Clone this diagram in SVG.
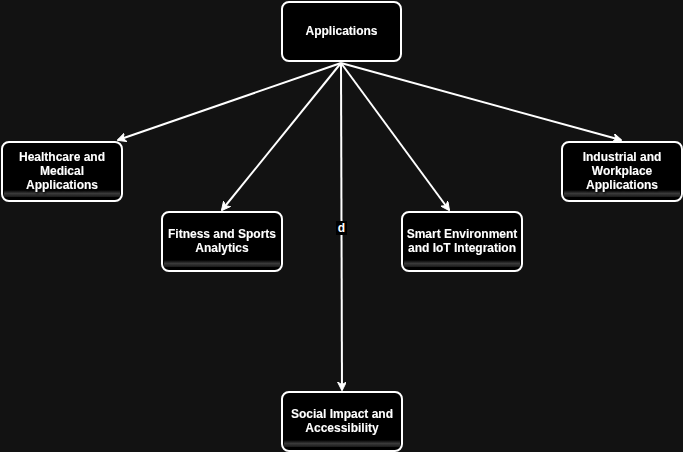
<svg xmlns="http://www.w3.org/2000/svg" width="683" height="452" viewBox="0 0 683 452">
<defs>
<linearGradient id="strip" x1="0" y1="0" x2="0" y2="1">
<stop offset="0" stop-color="#000"/>
<stop offset="0.5" stop-color="#3a3a3a"/>
<stop offset="1" stop-color="#1a1a1a"/>
</linearGradient>
<marker id="arr" viewBox="0 0 10 10" refX="9" refY="5" markerWidth="9" markerHeight="9" markerUnits="userSpaceOnUse" orient="auto">
<path d="M0,0 L10,5 L0,10 L3,5 Z" fill="#fff" stroke="#fff" stroke-width="1"/>
</marker>
<filter id="sh" x="-10%" y="-20%" width="120%" height="150%">
<feDropShadow dx="1" dy="2" stdDeviation="1" flood-color="#000" flood-opacity="0.8"/>
</filter>
</defs>
<style>
.box{fill:#000;stroke:#fff;stroke-width:2}
.t{fill:#fff;font-family:"Liberation Sans",Arial,sans-serif;font-size:12px;font-weight:bold;text-anchor:middle}
.e{stroke:#fff;stroke-width:2;fill:none;marker-end:url(#arr)}
</style>
<rect width="683" height="452" fill="#121212"/>
<g id="connectors">
<line class="e" x1="341" y1="63" x2="118" y2="140"/>
<line class="e" x1="341" y1="63" x2="222" y2="210"/>
<line class="e" x1="341" y1="63" x2="342" y2="390"/>
<line class="e" x1="341" y1="63" x2="449" y2="210"/>
<line class="e" x1="341" y1="63" x2="621" y2="140"/>
<rect x="336" y="221" width="11" height="14" fill="#000"/>
<text class="t" x="341.5" y="232" font-size="11">d</text>
</g>
<g id="n-applications">
<rect class="box" x="282" y="2" width="119" height="59" rx="7"/>
<text class="t" x="341.5" y="35" filter="url(#sh)">Applications</text>
</g>
<g id="n-healthcare">
<rect class="box" x="2" y="142" width="120" height="59" rx="7"/>
<rect x="4" y="190" width="116" height="7" fill="url(#strip)"/>
<text class="t" x="62" filter="url(#sh)"><tspan x="62" y="161">Healthcare and</tspan><tspan x="62" y="175">Medical</tspan><tspan x="62" y="189">Applications</tspan></text>
</g>
<g id="n-fitness">
<rect class="box" x="162" y="212" width="120" height="59" rx="7"/>
<rect x="164" y="260" width="116" height="7" fill="url(#strip)"/>
<text class="t" filter="url(#sh)"><tspan x="222" y="238">Fitness and Sports</tspan><tspan x="222" y="252">Analytics</tspan></text>
</g>
<g id="n-smart">
<rect class="box" x="402" y="212" width="120" height="59" rx="7"/>
<rect x="404" y="260" width="116" height="7" fill="url(#strip)"/>
<text class="t" filter="url(#sh)"><tspan x="462" y="238">Smart Environment</tspan><tspan x="462" y="252">and IoT Integration</tspan></text>
</g>
<g id="n-industrial">
<rect class="box" x="562" y="142" width="120" height="59" rx="7"/>
<rect x="564" y="190" width="116" height="7" fill="url(#strip)"/>
<text class="t" filter="url(#sh)"><tspan x="622" y="161">Industrial and</tspan><tspan x="622" y="175">Workplace</tspan><tspan x="622" y="189">Applications</tspan></text>
</g>
<g id="n-social">
<rect class="box" x="282" y="392" width="120" height="59" rx="7"/>
<rect x="284" y="440" width="116" height="7" fill="url(#strip)"/>
<text class="t" filter="url(#sh)"><tspan x="342" y="418">Social Impact and</tspan><tspan x="342" y="432">Accessibility</tspan></text>
</g>
</svg>
